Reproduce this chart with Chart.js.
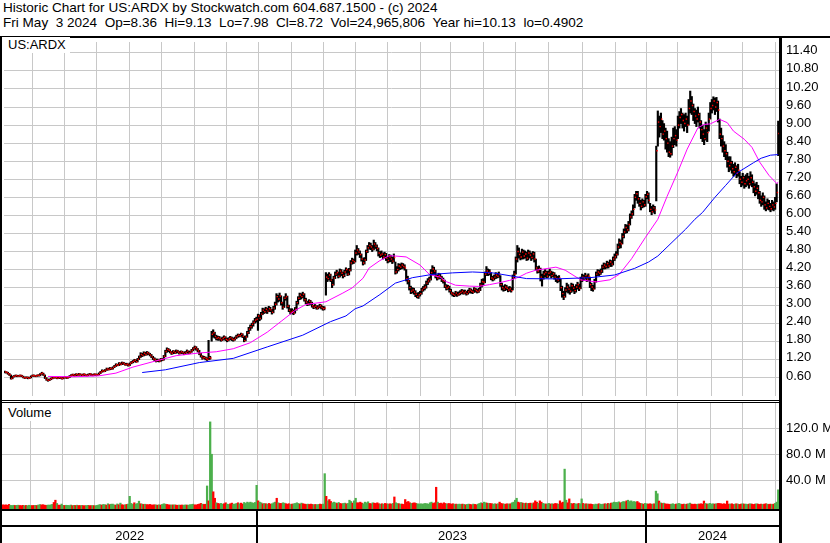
<!DOCTYPE html>
<html><head><meta charset="utf-8">
<script src="https://cdn.jsdelivr.net/npm/chart.js@4.4.1/dist/chart.umd.min.js"></script>
<style>
html,body{margin:0;padding:0;background:#fff;}
body{width:830px;height:543px;position:relative;overflow:hidden;font-family:"Liberation Sans",Arial,sans-serif;font-size:13px;color:#000;}
.t{position:absolute;white-space:pre;line-height:14px;font-size:13.55px;}
canvas{position:absolute;left:0;}
.ln{position:absolute;background:#000;}
.lab{position:absolute;background:#fff;white-space:pre;line-height:14px;padding:1px 4px 1px 6px;}
</style></head><body>
<div class="t" style="left:3px;top:1px">Historic Chart for US:ARDX by Stockwatch.com 604.687.1500 - (c) 2024</div>
<div class="t" style="left:3px;top:16px">Fri May  3 2024  Op=8.36  Hi=9.13  Lo=7.98  Cl=8.72  Vol=24,965,806  Year hi=10.13  lo=0.4902</div>
<canvas id="pc" width="830" height="362" style="top:38px"></canvas>
<canvas id="vc" width="830" height="140" style="top:403px"></canvas>
<div class="ln" style="left:0;top:36px;width:830px;height:2px"></div>
<div class="ln" style="left:0;top:36px;width:2px;height:507px"></div>
<div class="ln" style="left:779px;top:36px;width:3px;height:507px"></div>
<div class="ln" style="left:0;top:400px;width:782px;height:1px"></div>
<div class="ln" style="left:0;top:402px;width:782px;height:1px"></div>
<div class="ln" style="left:0;top:509px;width:782px;height:2px"></div>
<div class="ln" style="left:0;top:525px;width:782px;height:2px"></div>
<div class="lab" style="left:2px;top:37px">US:ARDX</div>
<div class="lab" style="left:2px;top:405px">Volume</div>
<script>
const closes = [
0.80,0.78,0.74,0.70,0.58,0.64,0.66,0.68,0.66,0.67, 0.68,0.65,0.61,0.60,0.62,0.59,0.61,0.66,0.68,0.67,
0.66,0.69,0.68,0.74,0.76,0.70,0.60,0.54,0.52,0.55, 0.58,0.60,0.62,0.61,0.59,0.62,0.60,0.58,0.61,0.63,
0.60,0.62,0.66,0.69,0.71,0.68,0.72,0.70,0.73,0.71, 0.69,0.72,0.70,0.68,0.71,0.73,0.70,0.69,0.72,0.70,
0.71,0.75,0.80,0.84,0.82,0.86,0.90,0.88,0.92,0.90, 0.95,0.99,1.04,1.02,1.08,1.05,1.10,1.07,1.04,1.06,
1.02,1.08,1.12,1.15,1.19,1.14,1.22,1.30,1.38,1.35, 1.42,1.38,1.44,1.40,1.36,1.30,1.24,1.20,1.17,1.19,
1.16,1.22,1.20,1.32,1.48,1.55,1.52,1.46,1.42,1.48, 1.44,1.50,1.46,1.42,1.47,1.44,1.40,1.45,1.49,1.43,
1.46,1.52,1.58,1.62,1.56,1.50,1.40,1.32,1.26,1.28, 1.24,1.22,1.28,1.26,2.05,2.10,1.98,1.92,1.94,1.90,
1.86,1.92,1.95,1.88,1.85,1.90,1.93,1.89,1.87,1.92, 1.98,2.02,2.00,2.05,1.98,1.84,1.96,2.10,2.22,2.30,
2.38,2.45,2.52,2.55,2.66,2.58,2.72,2.85,2.80,2.88, 2.82,2.90,2.86,2.78,2.92,3.05,3.30,3.22,3.32,3.10,
2.95,3.25,3.30,2.98,2.85,2.78,2.82,2.76,2.88,3.10, 3.25,3.35,3.30,3.38,3.20,3.12,3.05,3.15,3.08,3.00,
2.95,2.98,2.92,2.96,3.00,2.94,2.90,2.92,3.95,3.90, 4.02,3.85,3.70,3.92,4.05,4.10,3.98,4.15,4.08,4.00,
4.12,4.20,4.05,4.18,4.42,4.50,4.46,4.75,4.85,4.78, 4.70,4.55,4.42,4.52,4.80,4.92,5.00,4.95,4.88,5.05,
4.98,4.90,4.75,4.68,4.72,4.62,4.70,4.58,4.50,4.62, 4.55,4.48,4.60,4.12,4.20,4.32,4.28,4.35,4.30,4.26,
3.90,3.82,3.60,3.48,3.52,3.45,3.38,3.30,3.36,3.40, 3.52,3.58,3.62,3.75,3.82,3.88,4.10,4.22,4.15,3.98,
3.92,4.00,3.95,3.86,3.82,3.65,3.58,3.62,3.50,3.42, 3.38,3.35,3.42,3.36,3.40,3.44,3.48,3.42,3.46,3.40,
3.46,3.52,3.48,3.45,3.55,3.50,3.47,3.52,3.68,3.80, 3.78,4.05,4.15,4.08,4.12,3.92,3.88,3.95,4.02,3.98,
4.05,3.70,3.60,3.55,3.62,3.58,3.52,3.56,3.50,3.95, 4.05,4.55,4.80,4.70,4.62,4.78,4.65,4.72,4.58,4.75,
4.68,4.60,4.72,4.55,4.25,4.15,4.22,3.95,3.90,4.05, 4.10,3.98,4.08,4.12,4.00,4.06,3.95,3.90,3.85,3.92,
3.60,3.40,3.30,3.52,3.62,3.55,3.48,3.66,3.58,3.50, 3.62,3.70,3.58,3.85,3.95,3.92,4.00,3.88,3.98,3.70,
3.62,3.55,3.80,4.05,4.12,4.08,4.15,4.28,4.35,4.30, 4.40,4.32,4.45,4.38,4.55,4.62,4.70,4.95,5.10,5.05,
5.30,5.45,5.60,5.52,5.70,5.95,6.05,6.20,6.60,6.72, 6.55,6.40,6.30,6.45,6.35,6.62,6.70,6.50,6.20,6.12,
6.25,6.18,8.15,9.10,8.95,9.20,8.70,8.80,8.55,8.40, 8.10,8.05,8.30,8.55,8.65,8.50,9.00,9.25,9.35,9.15,
9.05,9.20,9.00,9.55,9.80,9.65,9.45,9.30,9.20,9.35, 9.10,8.85,8.70,8.55,8.90,8.75,9.20,9.55,9.65,9.80,
9.60,9.75,9.50,8.70,8.55,8.30,8.15,8.05,7.80,7.65, 7.75,7.55,7.45,7.60,7.40,7.50,7.20,7.10,7.25,7.05,
7.15,7.20,7.05,7.25,7.10,6.95,6.80,6.90,6.75,6.50, 6.45,6.60,6.35,6.25,6.40,6.30,6.22,6.35,6.28,6.40,
6.76,8.72];
const highs = [
0.83,0.81,0.79,0.75,0.70,0.66,0.68,0.70,0.69,0.69, 0.70,0.69,0.66,0.63,0.64,0.63,0.63,0.67,0.70,0.70,
0.68,0.70,0.71,0.75,0.79,0.76,0.70,0.61,0.56,0.57, 0.60,0.62,0.64,0.64,0.62,0.64,0.63,0.61,0.63,0.65,
0.64,0.64,0.68,0.71,0.73,0.72,0.74,0.73,0.75,0.74, 0.72,0.74,0.73,0.71,0.73,0.75,0.74,0.72,0.74,0.73,
0.73,0.77,0.82,0.87,0.86,0.88,0.93,0.92,0.95,0.94, 0.97,1.02,1.07,1.06,1.11,1.10,1.13,1.12,1.09,1.09,
1.07,1.10,1.15,1.18,1.22,1.20,1.25,1.33,1.44,1.42, 1.47,1.45,1.48,1.46,1.42,1.38,1.32,1.27,1.23,1.23,
1.21,1.25,1.25,1.35,1.52,1.60,1.58,1.54,1.48,1.51, 1.50,1.53,1.52,1.48,1.50,1.49,1.46,1.48,1.53,1.50,
1.49,1.55,1.61,1.66,1.64,1.58,1.52,1.42,1.34,1.32, 1.30,1.27,1.85,1.32,2.15,2.20,2.12,2.02,1.99,1.98,
1.93,1.96,2.00,1.97,1.92,1.94,1.98,1.96,1.93,1.96, 2.02,2.06,2.05,2.09,2.07,1.99,2.00,2.15,2.28,2.36,
2.42,2.50,2.58,2.62,2.72,2.70,2.78,2.92,2.90,2.95, 2.92,2.98,2.95,2.88,2.98,3.12,3.40,3.35,3.42,3.33,
3.12,3.30,3.40,3.32,3.02,2.90,2.90,2.86,2.94,3.15, 3.30,3.42,3.40,3.45,3.40,3.25,3.15,3.20,3.18,3.12,
3.02,3.04,3.00,3.00,3.05,3.03,2.98,2.97,4.10,4.05, 4.10,4.05,3.88,3.98,4.12,4.18,4.12,4.22,4.20,4.12,
4.18,4.26,4.22,4.24,4.50,4.58,4.55,4.85,5.00,4.90, 4.82,4.72,4.58,4.60,4.85,5.00,5.10,5.08,5.00,5.18,
5.10,5.02,4.92,4.80,4.82,4.75,4.78,4.74,4.62,4.70, 4.68,4.62,4.72,4.45,4.30,4.40,4.38,4.42,4.40,4.36,
4.20,3.98,3.85,3.65,3.60,3.58,3.50,3.42,3.44,3.48, 3.58,3.64,3.70,3.82,3.90,3.95,4.20,4.33,4.28,4.18,
4.02,4.08,4.06,3.98,3.92,3.85,3.70,3.68,3.65,3.55, 3.45,3.42,3.48,3.45,3.46,3.50,3.54,3.52,3.52,3.48,
3.52,3.58,3.56,3.52,3.60,3.58,3.54,3.58,3.75,3.88, 3.90,4.12,4.30,4.22,4.20,4.10,3.98,4.02,4.10,4.08,
4.12,4.00,3.75,3.66,3.70,3.68,3.62,3.64,3.60,4.02, 4.15,4.62,5.00,4.92,4.76,4.88,4.85,4.82,4.78,4.85,
4.82,4.75,4.80,4.78,4.55,4.30,4.32,4.25,4.05,4.15, 4.20,4.15,4.15,4.22,4.15,4.12,4.10,4.02,3.98,4.00,
3.88,3.65,3.48,3.60,3.75,3.70,3.62,3.75,3.72,3.64, 3.70,3.78,3.72,3.95,4.05,4.02,4.08,4.02,4.06,3.95,
3.75,3.68,3.88,4.12,4.20,4.18,4.22,4.35,4.42,4.40, 4.48,4.45,4.52,4.50,4.62,4.72,4.80,5.05,5.22,5.18,
5.40,5.55,5.70,5.68,5.80,6.05,6.15,6.35,6.70,6.80, 6.80,6.60,6.50,6.55,6.50,6.70,6.80,6.75,6.40,6.30,
6.35,6.30,8.30,9.47,9.30,9.40,9.15,9.05,8.90,8.80, 8.55,8.45,8.60,8.90,8.95,8.85,9.30,9.45,9.55,9.40,
9.35,9.40,9.30,9.85,10.13,9.95,9.70,9.55,9.50,9.60, 9.40,9.15,9.00,8.85,9.10,9.00,9.40,9.75,9.85,9.94,
9.90,9.92,9.80,9.20,8.90,8.65,8.45,8.35,8.10,7.95, 7.95,7.80,7.70,7.75,7.65,7.70,7.45,7.30,7.40,7.30,
7.35,7.40,7.30,7.45,7.35,7.15,7.05,7.10,7.00,6.80, 6.65,6.75,6.65,6.45,6.55,6.50,6.40,6.50,6.45,6.60,
7.05,9.13];
const lows = [
0.77,0.76,0.72,0.68,0.56,0.57,0.63,0.65,0.64,0.65, 0.65,0.64,0.60,0.58,0.59,0.57,0.58,0.60,0.65,0.65,
0.64,0.65,0.66,0.67,0.72,0.68,0.58,0.52,0.49,0.51, 0.54,0.57,0.59,0.59,0.57,0.58,0.58,0.56,0.57,0.60,
0.58,0.59,0.61,0.65,0.68,0.66,0.67,0.68,0.69,0.69, 0.67,0.68,0.68,0.66,0.67,0.70,0.68,0.67,0.68,0.68,
0.68,0.70,0.74,0.79,0.80,0.81,0.85,0.86,0.87,0.88, 0.89,0.94,0.98,1.00,1.01,1.03,1.04,1.05,1.02,1.02,
0.99,1.01,1.07,1.10,1.13,1.12,1.13,1.21,1.28,1.31, 1.33,1.35,1.36,1.37,1.33,1.27,1.21,1.17,1.13,1.14,
1.13,1.15,1.17,1.19,1.30,1.45,1.47,1.43,1.38,1.40, 1.41,1.42,1.43,1.39,1.40,1.41,1.37,1.38,1.43,1.40,
1.41,1.45,1.50,1.55,1.52,1.46,1.37,1.29,1.22,1.24, 1.20,1.18,1.20,1.22,1.82,1.95,1.92,1.86,1.85,1.85,
1.82,1.84,1.88,1.84,1.80,1.83,1.87,1.84,1.82,1.85, 1.90,1.95,1.96,1.98,1.94,1.80,1.83,1.95,2.07,2.18,
2.25,2.32,2.42,2.45,2.18,2.50,2.55,2.70,2.74,2.76, 2.74,2.80,2.80,2.72,2.76,2.88,3.02,3.12,3.15,3.02,
2.88,2.94,3.18,2.92,2.80,2.72,2.74,2.70,2.75,2.85, 3.05,3.20,3.22,3.26,3.15,3.06,3.00,3.02,3.03,2.95,
2.90,2.92,2.88,2.89,2.93,2.89,2.85,2.86,3.35,3.80, 3.85,3.80,3.60,3.68,3.90,4.00,3.92,3.95,4.00,3.92,
3.96,4.08,4.00,4.02,4.15,4.38,4.40,4.45,4.68,4.70, 4.60,4.48,4.35,4.38,4.50,4.76,4.88,4.86,4.80,4.85,
4.90,4.82,4.65,4.60,4.62,4.55,4.58,4.50,4.42,4.45, 4.46,4.40,4.45,4.05,4.08,4.15,4.20,4.22,4.24,4.18,
3.82,3.72,3.52,3.40,3.42,3.38,3.30,3.26,3.24,3.32, 3.38,3.48,3.52,3.58,3.70,3.78,3.85,4.02,4.05,3.92,
3.85,3.88,3.90,3.80,3.75,3.60,3.52,3.54,3.45,3.38, 3.32,3.30,3.32,3.31,3.34,3.36,3.40,3.38,3.39,3.35,
3.38,3.42,3.42,3.40,3.44,3.45,3.42,3.44,3.50,3.62, 3.70,3.76,4.00,4.00,4.02,3.86,3.82,3.85,3.90,3.92,
3.94,3.64,3.52,3.48,3.50,3.52,3.46,3.48,3.45,3.52, 3.90,4.05,4.45,4.58,4.52,4.55,4.55,4.58,4.50,4.52,
4.58,4.50,4.55,4.45,4.18,4.08,4.10,3.82,3.65,3.88, 3.95,3.92,3.94,4.00,3.92,3.96,3.88,3.80,3.76,3.80,
3.50,3.28,3.20,3.28,3.45,3.42,3.38,3.44,3.48,3.40, 3.45,3.55,3.50,3.56,3.80,3.84,3.88,3.80,3.82,3.60,
3.50,3.48,3.55,3.78,4.00,4.00,4.04,4.10,4.22,4.22, 4.25,4.25,4.30,4.30,4.35,4.50,4.58,4.68,4.90,4.92,
5.05,5.25,5.40,5.42,5.48,5.68,5.90,6.00,6.25,6.50, 6.40,6.30,6.18,6.25,6.28,6.30,6.55,6.40,6.12,6.02,
6.10,6.05,6.48,8.30,8.60,8.75,8.55,8.50,8.20,8.10, 7.95,7.93,8.00,8.25,8.35,8.30,8.55,8.90,9.05,8.90,
8.80,8.95,8.75,9.00,9.40,9.35,9.15,9.05,8.95,9.10, 8.90,8.55,8.45,8.35,8.50,8.45,8.80,9.20,9.40,9.50,
9.35,9.45,9.10,8.55,8.30,8.10,7.95,7.85,7.60,7.45, 7.50,7.40,7.30,7.35,7.25,7.30,7.05,6.95,7.00,6.90,
6.95,7.00,6.90,7.00,6.95,6.75,6.65,6.70,6.55,6.40, 6.30,6.35,6.20,6.15,6.20,6.18,6.12,6.18,6.15,6.20,
6.45,7.98];
// volume in millions of shares
const volumes = [
2.0,1.5,1.8,1.2,2.5,1.0,0.8,1.2,0.9,1.1, 1.3,0.8,0.6,1.0,0.7,0.9,0.6,1.2,0.8,0.7,
0.9,1.1,0.8,1.6,2.2,1.8,2.0,1.4,1.0,1.5, 1.4,1.8,2.5,5.5,9.0,4.0,1.5,1.2,3.0,1.0,
0.9,1.2,1.0,0.8,1.5,0.7,1.1,0.9,1.3,0.8, 0.7,1.0,0.6,0.5,0.8,1.1,0.7,0.6,0.9,0.5,
0.6,1.0,1.8,2.2,1.4,2.5,2.0,1.5,3.5,2.2, 2.8,3.0,1.8,1.5,3.2,2.0,4.5,2.0,1.6,1.8,
2.5,3.0,15.0,4.0,2.5,5.0,3.0,4.0,7.5,3.5, 3.0,2.5,2.8,2.2,2.0,2.5,1.8,1.5,2.0,1.6,
1.4,1.8,1.5,2.5,3.5,3.0,2.4,2.0,1.5,1.8, 1.6,1.9,1.4,1.2,1.5,1.3,1.6,1.2,1.8,1.4,
1.5,2.0,2.4,2.8,1.8,1.6,2.5,3.0,4.0,3.0, 2.5,2.8,31.0,8.0,130.0,80.0,22.0,12.0,5.0,4.0,
3.5,4.0,3.0,3.5,5.0,3.0,2.5,3.5,4.5,3.0, 3.0,4.0,5.0,3.5,4.5,3.0,5.5,4.0,6.0,5.0,
6.0,5.0,4.5,5.5,32.0,8.0,6.0,5.0,3.5,4.0, 3.5,3.0,4.0,3.0,3.5,5.0,6.0,12.0,5.0,4.0,
4.0,5.0,4.5,3.5,3.0,3.5,2.5,3.0,3.5,4.0, 5.0,4.0,3.0,4.5,3.5,3.0,2.5,3.0,2.5,3.0,
2.5,2.0,2.5,2.0,2.5,3.0,2.5,3.0,50.0,15.0, 8.0,10.0,7.0,5.0,6.0,5.0,4.0,5.5,4.0,3.5,
4.0,4.5,3.5,4.0,9.0,7.0,4.5,8.0,12.0,5.0, 5.0,6.0,4.5,3.5,6.0,5.0,6.5,4.0,3.5,5.0,
4.5,4.0,5.0,3.5,3.0,3.5,3.0,4.0,3.5,3.0, 3.5,3.0,4.0,14.0,5.0,4.0,3.5,3.0,3.0,2.5,
10.0,6.0,7.0,5.0,4.0,4.5,5.0,4.0,3.5,3.0, 3.5,3.0,3.5,4.0,3.5,3.0,5.0,6.0,4.0,5.0,
29.0,6.0,4.0,4.5,3.5,5.0,4.0,3.0,4.0,3.5, 3.0,3.5,2.5,3.0,2.5,3.0,2.5,3.0,2.5,2.0,
2.5,3.0,2.5,2.0,3.0,2.5,2.0,3.0,4.0,5.0, 4.0,6.0,5.0,4.5,4.0,4.0,3.5,3.0,3.5,3.0,
3.5,6.0,4.0,3.5,3.0,3.0,3.5,3.0,3.5,5.0, 6.0,9.0,12.0,6.0,5.0,5.5,4.5,4.0,4.5,4.0,
4.0,4.5,3.5,5.0,8.0,6.0,4.0,8.0,6.0,4.0, 3.5,3.0,3.5,4.0,3.0,3.5,3.0,4.0,3.5,3.0,
8.0,5.0,6.0,57.0,9.0,5.0,11.0,4.0,3.5,4.0, 3.5,3.0,4.0,3.5,11.0,4.0,3.0,3.5,3.0,3.0,
3.0,2.5,2.0,3.0,2.5,3.5,3.0,2.5,3.0,3.5, 3.0,4.0,3.5,4.5,5.0,6.0,5.5,5.5,6.5,5.0,
6.0,7.0,6.5,8.0,9.0,7.0,8.0,6.5,7.0,6.0, 7.0,5.0,4.0,3.5,3.0,4.0,3.5,3.0,3.5,3.0,
3.0,3.5,23.0,19.0,7.7,5.0,4.0,4.5,3.5,3.0, 3.0,2.5,3.0,3.5,2.5,3.0,3.5,4.0,3.0,2.5,
3.0,2.5,3.0,3.5,4.5,3.0,2.5,3.0,2.5,3.0, 3.0,3.5,3.0,7.7,4.0,3.0,3.5,4.0,3.0,3.5,
3.0,3.5,4.0,4.0,3.5,3.0,3.5,3.0,7.7,3.0, 3.0,3.5,2.5,3.0,3.5,3.0,2.5,3.0,3.5,3.0,
3.0,2.5,3.0,3.5,3.0,2.5,3.0,3.5,3.0,2.5, 3.0,2.5,3.0,3.5,3.0,2.5,3.0,2.5,3.0,4.0,
6.0,24.97];
// moving averages: [bar index, value]
const maFast = [[28,0.65],[45,0.64],[61,0.67],[72,0.76],[83,0.96],[96,1.14],[111,1.34],[126,1.43],[137,1.47],[148,1.57],[159,1.77],[170,2.12],[179,2.48],[188,2.84],[195,3.04],[208,3.13],[219,3.42],[225,3.59],[232,3.91],[236,4.25],[243,4.50],[249,4.66],[253,4.65],[260,4.62],[269,4.35],[275,4.04],[282,3.95],[286,3.80],[292,3.68],[301,3.65],[307,3.64],[314,3.70],[320,3.76],[327,3.84],[333,3.95],[338,4.08],[344,4.18],[357,4.28],[363,4.18],[373,3.86],[383,3.79],[392,3.86],[398,4.04],[406,4.56],[415,5.27],[423,5.87],[429,6.63],[436,7.45],[442,8.20],[449,8.91],[453,9.02],[457,9.04],[463,9.19],[468,9.08],[472,8.80],[479,8.53],[484,8.26],[489,7.77],[495,7.33],[500,7.06],[501,7.10]];
const maSlow = [[89,0.78],[104,0.87],[126,1.11],[148,1.25],[170,1.63],[193,2.02],[211,2.47],[221,2.66],[227,2.90],[232,2.99],[243,3.37],[253,3.75],[260,3.86],[264,3.93],[277,4.04],[290,4.09],[303,4.12],[316,4.09],[322,4.04],[329,3.98],[338,3.90],[357,3.89],[379,3.93],[395,4.02],[408,4.24],[417,4.45],[423,4.65],[441,5.54],[447,5.87],[452,6.10],[460,6.60],[467,7.00],[474,7.40],[485,7.75],[490,7.90],[496,8.00],[501,8.02]];
const monthTicks = [18,38.5,59.5,81,101.5,123,143.5,164.5,185.5,206.5,227,248,269,289,310,331,352,374,395.5,415.5,436,457.5,478,499.5];
const yearLabels = ['2022','2023','2024'];
const yearCenters = [82,290.5,458.5];
const yearBounds = [164.5,415.5];
const priceTicks = [0.6,1.2,1.8,2.4,3.0,3.6,4.2,4.8,5.4,6.0,6.6,7.2,7.8,8.4,9.0,9.6,10.2,10.8,11.4];
const volumeTicks = [40,80,120];

const FONT = '"Liberation Sans", Arial, sans-serif';
const GRID = '#c8c8c8';
const N = closes.length;
const XMIN = -0.5, XMAX = N - 0.5;
const idx = Array.from({length: N}, (_, i) => i);
const GREEN = '#4cb04c', RED = '#ff0000';

const base = {
  responsive: false, animation: false, devicePixelRatio: 1, events: [],
  plugins: {legend: {display: false}, tooltip: {enabled: false}, title: {display: false}}
};
const monthAxis = {
  type: 'linear', min: XMIN, max: XMAX, offset: false, position: 'bottom',
  grid: {color: GRID, lineWidth: 1, drawTicks: false, offset: false},
  border: {display: false}, ticks: {display: false},
  afterBuildTicks: s => { s.ticks = monthTicks.map(v => ({value: v})); },
  afterFit: s => { s.height = 0; s.paddingLeft = 0; s.paddingRight = 0; }
};

new Chart(document.getElementById('pc'), {
  data: {datasets: [
    {type: 'bar', data: idx.map(i => ({x: i, y: [lows[i], highs[i]]})), backgroundColor: '#000', borderWidth: 0, barThickness: 1.5, grouped: false, order: 4},
    {type: 'line', data: idx.map(i => ({x: i + 0.5, y: closes[i]})), showLine: false, pointStyle: 'rect', pointRadius: 1.0, pointBackgroundColor: RED, pointBorderWidth: 0, order: 3},
    {type: 'line', data: maFast.map(p => ({x: p[0], y: p[1]})), borderColor: '#ff00ff', borderWidth: 1, pointRadius: 0, tension: 0, order: 2},
    {type: 'line', data: maSlow.map(p => ({x: p[0], y: p[1]})), borderColor: '#0000ff', borderWidth: 1, pointRadius: 0, tension: 0, order: 1}
  ]},
  options: Object.assign({}, base, {
    layout: {padding: {left: 2, right: 0, top: 0, bottom: 0}},
    scales: {
      x: monthAxis,
      y: {position: 'right', min: 0, max: 11.76,
        grid: {color: GRID, drawTicks: false}, border: {display: false},
        ticks: {padding: 7, color: '#000', font: {family: FONT, size: 13}, labelOffset: -2, autoSkip: false, callback: v => Number(v).toFixed(2)},
        afterBuildTicks: s => { s.ticks = priceTicks.map(v => ({value: v})); },
        afterFit: s => { s.width = 51; s.paddingTop = 0; s.paddingBottom = 0; }
      }
    }
  })
});

const volColors = idx.map(i => (i > 0 && closes[i] >= closes[i - 1]) ? GREEN : RED);
const VMIN = -4.6, VMAX = 159.2;
const sepPlugin = {
  id: 'sep',
  afterDraw(chart) {
    const ctx = chart.ctx, sx = chart.scales.xy, top = chart.chartArea.bottom;
    ctx.save(); ctx.fillStyle = '#000';
    yearBounds.forEach(b => { const px = Math.round(sx.getPixelForValue(b)); ctx.fillRect(px - 1, top, 2, chart.height - top); });
    ctx.restore();
  }
};
new Chart(document.getElementById('vc'), {
  data: {datasets: [
    {type: 'bar', data: idx.map(i => ({x: i, y: volumes[i]})), backgroundColor: volColors, borderWidth: 0, barThickness: 1.6, base: VMIN, grouped: false, xAxisID: 'x', yAxisID: 'y'}
  ]},
  plugins: [sepPlugin],
  options: Object.assign({}, base, {
    layout: {padding: {left: 2, right: 0, top: 0, bottom: 0}},
    scales: {
      x: monthAxis,
      xy: {type: 'linear', min: XMIN, max: XMAX, offset: false, position: 'bottom',
        grid: {display: false, drawTicks: false}, border: {display: false},
        ticks: {padding: 20, color: '#000', font: {family: FONT, size: 13}, autoSkip: false, maxRotation: 0, callback: (v, i) => yearLabels[i]},
        afterBuildTicks: s => { s.ticks = yearCenters.map(v => ({value: v})); },
        afterFit: s => { s.height = 34; s.paddingLeft = 0; s.paddingRight = 0; }
      },
      y: {position: 'right', min: VMIN, max: VMAX,
        grid: {color: GRID, drawTicks: false}, border: {display: false},
        ticks: {padding: 7, color: '#000', font: {family: FONT, size: 13}, labelOffset: 0, autoSkip: false, callback: v => Number(v).toFixed(1) + ' M'},
        afterBuildTicks: s => { s.ticks = volumeTicks.map(v => ({value: v})); },
        afterFit: s => { s.width = 51; s.paddingTop = 0; s.paddingBottom = 0; }
      }
    }
  })
});
</script>
</body></html>
